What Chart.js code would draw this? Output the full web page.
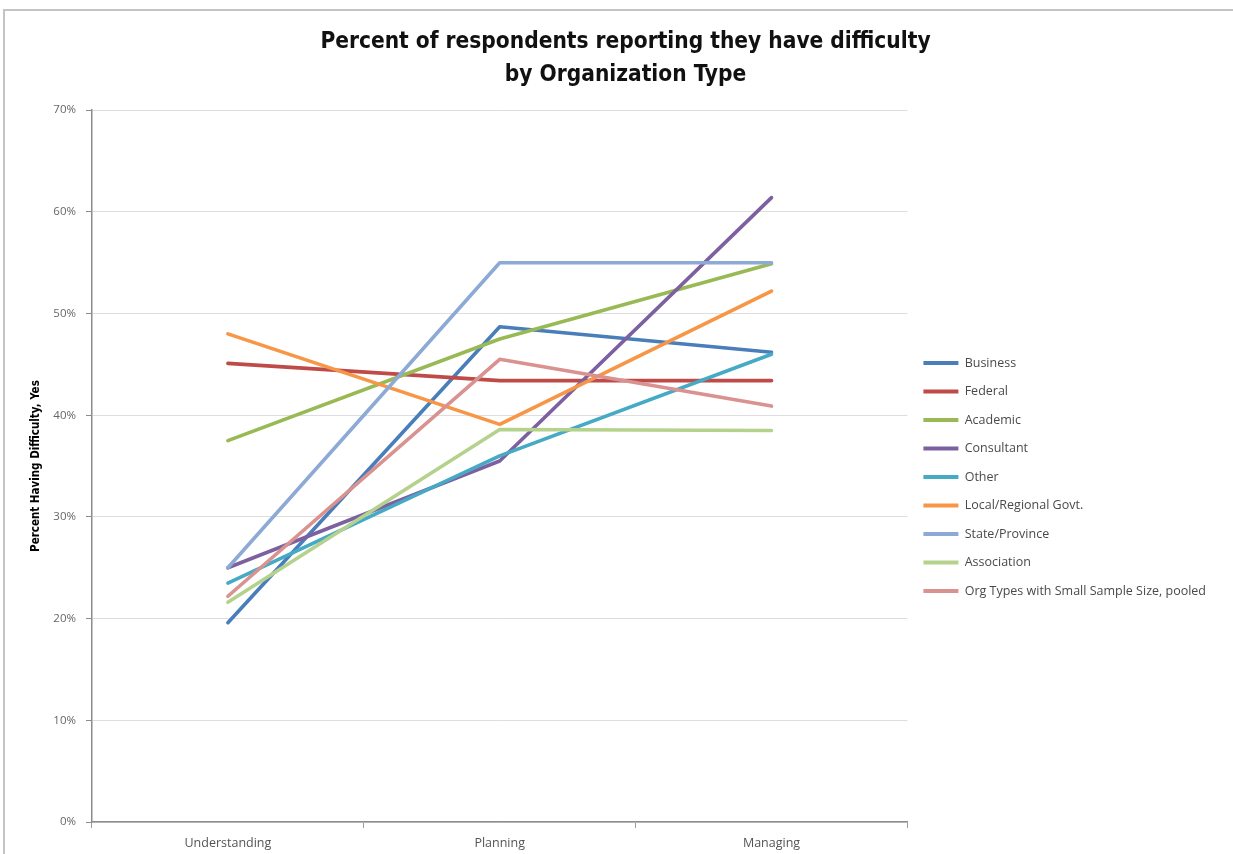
<!DOCTYPE html>
<html>
<head>
<meta charset="utf-8">
<script src="https://cdn.jsdelivr.net/npm/chart.js@4.4.1/dist/chart.umd.min.js"></script>
<style>
  html, body { margin: 0; padding: 0; background: #ffffff; }
  #frame {
    position: absolute; left: 3px; top: 9px; width: 1250px; height: 900px;
    border-left: 2px solid #c4c4c4; border-top: 2px solid #c4c4c4;
    box-sizing: border-box;
  }
  #wrap { position: absolute; left: 0; top: 0; width: 1233px; height: 854px; }
</style>
</head>
<body>
<div id="frame"></div>
<div id="wrap"><canvas id="chart" width="1233" height="854"></canvas></div>
<script>
// Stages of the process (x categories)
const stages = ['Understanding', 'Planning', 'Managing'];

// Percent of respondents reporting difficulty, per organization type
const business     = [19.6, 48.7, 46.2];
const federal      = [45.1, 43.4, 43.4];
const academic     = [37.5, 47.5, 54.9];
const consultant   = [25.0, 35.5, 61.4];
const other        = [23.5, 36.0, 46.0];
const localGovt    = [48.0, 39.1, 52.2];
const stateProv    = [25.0, 55.0, 55.0];
const association  = [21.6, 38.6, 38.5];
const pooled       = [22.2, 45.5, 40.9];

// Y axis tick values (percent)
const yTicks = [0, 10, 20, 30, 40, 50, 60, 70];

const seriesNames = ['Business', 'Federal', 'Academic', 'Consultant', 'Other',
  'Local/Regional Govt.', 'State/Province', 'Association',
  'Org Types with Small Sample Size, pooled'];
const seriesValues = [business, federal, academic, consultant, other,
  localGovt, stateProv, association, pooled];
const seriesColors = ['#4A7EBB', '#BE4B48', '#98B954', '#7D60A0', '#46AAC5',
  '#F79646', '#8DAAD6', '#B5D28C', '#D9928F'];

const datasets = seriesNames.map((name, i) => ({
  label: name,
  data: seriesValues[i],
  borderColor: seriesColors[i],
  backgroundColor: seriesColors[i],
  borderWidth: 3.6,
  pointRadius: 0,
  pointHoverRadius: 0,
  tension: 0,
  borderJoinStyle: 'round',
  borderCapStyle: 'round',
  // later series are painted over earlier ones
  order: seriesNames.length - i
}));

const sansFont = "'Open Sans', 'DejaVu Sans', sans-serif";
const narrowFont = "'Liberation Sans Narrow', 'DejaVu Sans Condensed', sans-serif";

new Chart(document.getElementById('chart'), {
  type: 'line',
  data: { labels: stages, datasets },
  options: {
    responsive: false,
    animation: false,
    layout: { padding: { left: 35, right: 17, top: 0, bottom: 4 } },
    plugins: {
      title: {
        display: true,
        text: ['Percent of respondents reporting they have difficulty', 'by Organization Type'],
        color: '#111111',
        font: { family: narrowFont, size: 22.5, weight: 'bold', lineHeight: 1.47 },
        padding: { top: 25.5, bottom: 18.5 }
      },
      legend: {
        position: 'right',
        align: 'center',
        maxWidth: 340,
        // empty heading block: keeps the key column lower, beside the middle of the plot
        title: { display: true, text: '', font: { size: 12, lineHeight: 1.2 }, padding: { top: 89.6, bottom: 0 } },
        labels: {
          boxWidth: 35,
          boxHeight: 4,
          padding: 16,
          color: '#4a4a4a',
          font: { family: sansFont, size: 12.5 },
          sort: (a, b) => a.datasetIndex - b.datasetIndex,
          generateLabels: (chart) => chart.data.datasets.map((ds, i) => ({
            text: ds.label,
            fillStyle: ds.borderColor,
            strokeStyle: ds.borderColor,
            lineWidth: 0,
            fontColor: '#4a4a4a',
            datasetIndex: i,
            hidden: false
          }))
        }
      },
      tooltip: { enabled: false }
    },
    scales: {
      x: {
        offset: true,
        grid: { display: true, drawOnChartArea: false, offset: true, tickLength: 6, tickColor: '#9a9a9a' },
        border: { color: '#8c8c8c', width: 1.5 },
        ticks: { color: '#555555', padding: 8, font: { family: sansFont, size: 12.5 } },
        afterFit: (s) => { s.height = 28; }
      },
      y: {
        min: 0,
        max: 70,
        afterBuildTicks: (s) => { s.ticks = yTicks.map(v => ({ value: v })); },
        grid: { color: '#dedede', lineWidth: 1, tickLength: 6, tickColor: '#8c8c8c' },
        border: { color: '#8c8c8c', width: 1.5 },
        ticks: { color: '#666666', padding: 10, font: { family: sansFont, size: 11.5 }, callback: (v) => v + '%' },
        title: {
          display: true,
          text: 'Percent Having Difficulty, Yes',
          color: '#000000',
          font: { family: narrowFont, size: 11.5, weight: 'bold' },
          padding: { top: -6, bottom: 11 }
        },
        afterFit: (s) => { s.width = 57; }
      }
    }
  }
});
</script>
</body>
</html>
